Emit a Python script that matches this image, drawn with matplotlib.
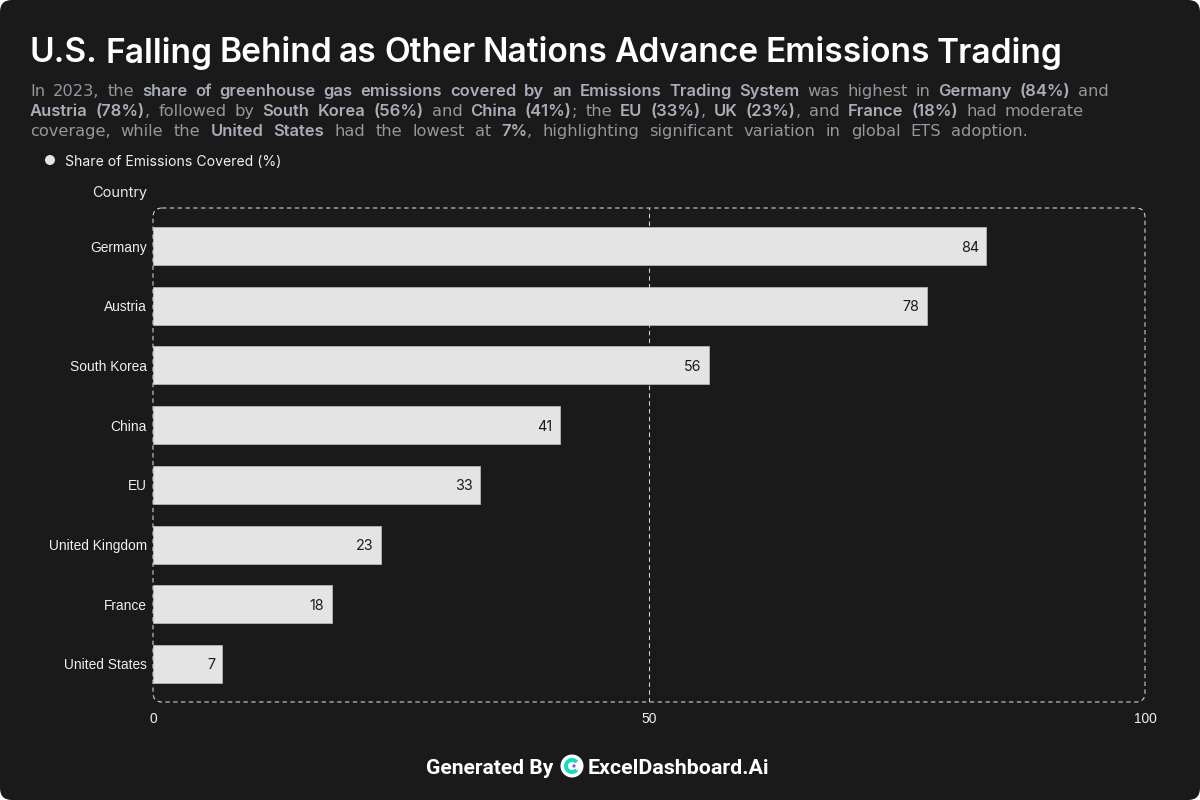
import re
import matplotlib
matplotlib.use("Agg")
from matplotlib import pyplot as plt
from matplotlib.patches import FancyBboxPatch, Circle, Wedge

countries = ["Germany", "Austria", "South Korea", "China", "EU", "United Kingdom", "France", "United States"]
shares = [84, 78, 56, 41, 33, 23, 18, 7]
x_ticks = [0, 50, 100]

title = "U.S. Falling Behind as Other Nations Advance Emissions Trading"
line1 = [("In 2023, the ", 0), ("share of greenhouse gas emissions covered by an Emissions Trading System", 1),
         (" was highest in ", 0), ("Germany (84%)", 1), (" and", 0)]
line2 = [("Austria (78%)", 1), (", followed by ", 0), ("South Korea (56%)", 1), (" and ", 0), ("China (41%)", 1),
         ("; the ", 0), ("EU (33%)", 1), (", ", 0), ("UK (23%)", 1), (", and ", 0), ("France (18%)", 1),
         (" had moderate", 0)]
line3 = [("coverage, while the ", 0), ("United States", 1), (" had the lowest at ", 0), ("7%", 1),
         (", highlighting significant variation in global ETS adoption.", 0)]

BG = "#1a1a1a"
BAR = "#e4e4e4"
FONT = "Inter"

fig = plt.figure(figsize=(12, 8), dpi=100, facecolor="white")
renderer = fig.canvas.get_renderer()


def pixel_axes(zorder):
    a = fig.add_axes([0, 0, 1, 1], zorder=zorder)
    a.set_xlim(0, 1200)
    a.set_ylim(800, 0)
    a.axis("off")
    a.patch.set_alpha(0)
    return a


def px(size):
    return size * 0.72


back = pixel_axes(0)
back.add_patch(FancyBboxPatch((0, 0), 1200, 800, boxstyle="round,pad=0,rounding_size=12", fc=BG, ec="none"))
page = pixel_axes(2)


def fit_line(runs, x0, x1, y, styles):
    # place word by word so that the line spans the same width as the original
    pieces = []
    for text, bold in runs:
        for tok in re.findall(r"\s+|[^\s]+", text):
            pieces.append((tok, bold))
    words = []
    for tok, bold in pieces:
        if tok.isspace():
            continue
        s = styles[bold]
        t = page.text(0, y, tok, color=s["color"], fontsize=px(s["size"]), fontweight=s["weight"],
                      family=s["family"], va="center_baseline", ha="left")
        words.append(t)
    widths = [t.get_window_extent(renderer).width for t in words]
    n_gaps = sum(1 for tok, bold in pieces if tok.isspace())
    gap = (x1 - x0 - sum(widths)) / n_gaps
    x = x0
    i = 0
    for tok, bold in pieces:
        if tok.isspace():
            x += gap
        else:
            words[i].set_x(x)
            x += widths[i]
            i += 1


fit_line([(title, 0)], 30, 1063, 50, {0: dict(color="white", size=33.5, weight=600, family=FONT)})
sub_styles = {0: dict(color="#95979e", size=16.3, weight=400, family="DejaVu Sans"),
              1: dict(color="#a9adb8", size=16.6, weight=600, family=FONT)}
fit_line(line1, 30, 1109, 90, sub_styles)
fit_line(line2, 30, 1084, 110, sub_styles)
fit_line(line3, 30, 1028, 130, sub_styles)

page.add_patch(Circle((50, 160), 5, fc=BAR, ec="none"))
page.text(65, 160, "Share of Emissions Covered (%)", color="#f0f0f0", fontsize=px(14), family=FONT,
          va="center_baseline", ha="left")
page.text(147, 192, "Country", color="#e8e8e8", fontsize=px(14.5), family=FONT, va="center_baseline", ha="right")

# footer
page.text(426, 766, "Generated By", color="white", fontsize=px(21), family="Roboto", fontweight=600,
          va="center_baseline", ha="left")
page.text(588, 766, "ExcelDashboard.Ai", color="white", fontsize=px(21.4), family="Roboto", fontweight=600,
          va="center_baseline", ha="left")
page.add_patch(Circle((572, 766), 11.5, fc="white", ec="none"))
page.add_patch(Wedge((572, 766), 8, 40, 320, width=4, fc="#14dcc0", ec="none"))
page.add_patch(Circle((574, 766), 1.6, fc="#8a4be0", ec="none"))

# plot panel
left, right, top, bottom = 153, 1145, 208, 702
ax = fig.add_axes([left / 1200, 1 - bottom / 800, (right - left) / 1200, (bottom - top) / 800], zorder=1)
ax.patch.set_alpha(0)
for s in ax.spines.values():
    s.set_visible(False)

y = list(range(len(countries)))
ax.axvline(50, color="#d8d8d8", lw=0.75, ls=(0, (4.2, 3.3)), zorder=1)
bars = ax.barh(y, shares, height=38 / 59.7, color=BAR, edgecolor="#c0c0c0", linewidth=0.5, zorder=2)
for rect, v in zip(bars, shares):
    ax.annotate(str(v), (v, rect.get_y() + rect.get_height() / 2), xytext=(-5.2, 0), textcoords="offset points",
                ha="right", va="center_baseline", color="#1a1a1a", fontsize=px(14.3), family=FONT, zorder=3)

ax.set_xlim(0, 100)
ax.set_ylim(7.6365, -0.6365)
ax.set_xticks(x_ticks)
ax.set_yticks(y, countries)
ax.tick_params(axis="x", length=0, pad=7.5, labelcolor="#f0f0f0", labelsize=px(13.8))
ax.tick_params(axis="y", length=0, pad=4.3, labelcolor="#f0f0f0", labelsize=px(13.8))
for lab in ax.get_xticklabels() + ax.get_yticklabels():
    lab.set_family("Liberation Sans")

# dashed rounded frame goes over the bars
page.add_patch(FancyBboxPatch((left, top), right - left, bottom - top, boxstyle="round,pad=0,rounding_size=9",
                              fc="none", ec="#dcdcdc", lw=0.75, ls=(0, (4.2, 3.3))))

fig.savefig("out.png", dpi=100, facecolor=fig.get_facecolor())
